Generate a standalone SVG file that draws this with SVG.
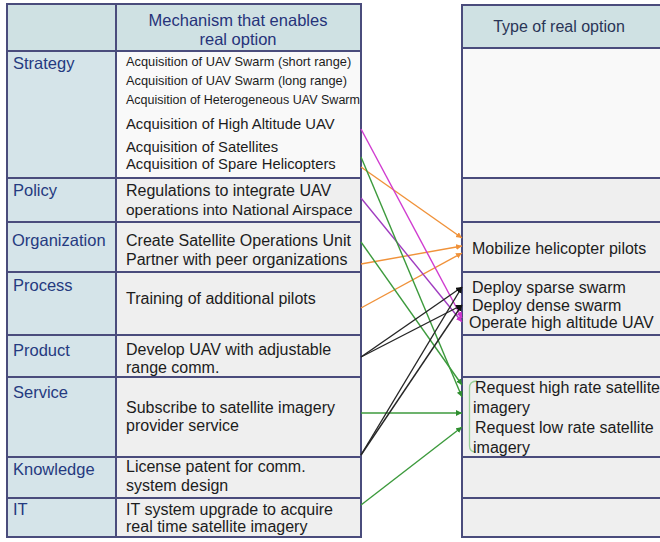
<svg xmlns="http://www.w3.org/2000/svg" width="660" height="542" viewBox="0 0 660 542">
<defs>
<style>
.hd{fill:#cfe1e3;stroke:#4a4c7c;stroke-width:2}
.lb{fill:#d5e4e9;stroke:#4a4c7c;stroke-width:2}
.mc{fill:#efefef;stroke:#4a4c7c;stroke-width:2}
.mw{fill:#f9f9f9;stroke:#4a4c7c;stroke-width:2}
.t{font-family:"Liberation Sans",Arial,sans-serif;font-size:16px;fill:#1c1c1c}
.ts{font-family:"Liberation Sans",Arial,sans-serif;font-size:12.8px;fill:#1c1c1c}
.tm{font-family:"Liberation Sans",Arial,sans-serif;font-size:14.8px;fill:#1c1c1c}
.tl{font-family:"Liberation Sans",Arial,sans-serif;font-size:16.5px;fill:#253a80}
.th{font-family:"Liberation Sans",Arial,sans-serif;font-size:16.5px;fill:#26337a;text-anchor:middle}
.tr{font-family:"Liberation Sans",Arial,sans-serif;font-size:16px;fill:#1c1c1c}
.c{fill:none;stroke-width:1.4}
.or{stroke:#f0923a;marker-end:url(#ao)}
.mg{stroke:#d03cd0;marker-end:url(#am)}
.pu{stroke:#a03cc0;marker-end:url(#am)}
.gr{stroke:#3c9a3c;marker-end:url(#ag)}
.bk{stroke:#262626;marker-end:url(#ab)}
</style>
<marker id="ao" markerUnits="userSpaceOnUse" markerWidth="7" markerHeight="7" refX="6" refY="3" orient="auto"><path d="M0,0 L6,3 L0,6 z" fill="#f0923a"/></marker>
<marker id="am" markerUnits="userSpaceOnUse" markerWidth="7" markerHeight="7" refX="6" refY="3" orient="auto"><path d="M0,0 L6,3 L0,6 z" fill="#cc33cc"/></marker>
<marker id="ag" markerUnits="userSpaceOnUse" markerWidth="7" markerHeight="7" refX="6" refY="3" orient="auto"><path d="M0,0 L6,3 L0,6 z" fill="#2f8f2f"/></marker>
<marker id="ab" markerUnits="userSpaceOnUse" markerWidth="7" markerHeight="7" refX="6" refY="3" orient="auto"><path d="M0,0 L6,3 L0,6 z" fill="#111"/></marker>
</defs>
<rect width="660" height="542" fill="#ffffff"/>

<g id="left-header">
<rect class="hd" x="7" y="4" width="109" height="47"/>
<rect class="hd" x="116" y="4" width="245" height="47"/>
<text class="th" x="238" y="25.5">Mechanism that enables</text>
<text class="th" x="238" y="45">real option</text>
</g>

<g id="row-strategy">
<rect class="lb" x="7" y="51" width="109" height="127"/>
<rect class="mw" x="116" y="51" width="245" height="127"/>
<text class="tl" x="13" y="69">Strategy</text>
<text class="ts" x="126" y="66">Acquisition of UAV Swarm (short range)</text>
<text class="ts" x="126" y="84.5">Acquisition of UAV Swarm (long range)</text>
<text class="ts" x="126" y="104" style="font-size:12.5px">Acquisition of Heterogeneous UAV Swarm</text>
<text class="tm" x="126" y="128.5">Acquisition of High Altitude UAV</text>
<text class="tm" x="126" y="152">Acquisition of Satellites</text>
<text class="tm" x="126" y="169">Acquisition of Spare Helicopters</text>
</g>

<g id="row-policy">
<rect class="lb" x="7" y="178" width="109" height="44"/>
<rect class="mc" x="116" y="178" width="245" height="44"/>
<text class="tl" x="13" y="196">Policy</text>
<text class="t" x="126" y="196">Regulations to integrate UAV</text>
<text class="t" x="126" y="214.5" style="font-size:15.5px">operations into National Airspace</text>
</g>

<g id="row-organization">
<rect class="lb" x="7" y="222" width="109" height="50"/>
<rect class="mc" x="116" y="222" width="245" height="50"/>
<text class="tl" x="12" y="245.5">Organization</text>
<text class="t" x="126" y="245.5">Create Satellite Operations Unit</text>
<text class="t" x="126" y="264.5">Partner with peer organizations</text>
</g>

<g id="row-process">
<rect class="lb" x="7" y="272" width="109" height="63"/>
<rect class="mc" x="116" y="272" width="245" height="63"/>
<text class="tl" x="13" y="291">Process</text>
<text class="t" x="126" y="304">Training of additional pilots</text>
</g>

<g id="row-product">
<rect class="lb" x="7" y="335" width="109" height="42"/>
<rect class="mc" x="116" y="335" width="245" height="42"/>
<text class="tl" x="13" y="355.5">Product</text>
<text class="t" x="126" y="355">Develop UAV with adjustable</text>
<text class="t" x="126" y="373">range comm.</text>
</g>

<g id="row-service">
<rect class="lb" x="7" y="377" width="109" height="80"/>
<rect class="mc" x="116" y="377" width="245" height="80"/>
<text class="tl" x="13" y="398">Service</text>
<text class="t" x="126" y="413">Subscribe to satellite imagery</text>
<text class="t" x="126" y="431">provider service</text>
</g>

<g id="row-knowledge">
<rect class="lb" x="7" y="457" width="109" height="41"/>
<rect class="mc" x="116" y="457" width="245" height="41"/>
<text class="tl" x="13" y="475">Knowledge</text>
<text class="t" x="126" y="472">License patent for comm.</text>
<text class="t" x="126" y="491">system design</text>
</g>

<g id="row-it">
<rect class="lb" x="7" y="498" width="109" height="39"/>
<rect class="mc" x="116" y="498" width="245" height="39"/>
<text class="tl" x="13" y="515">IT</text>
<text class="t" x="126" y="514.5">IT system upgrade to acquire</text>
<text class="t" x="126" y="532">real time satellite imagery</text>
</g>

<g id="right-header">
<rect class="hd" x="462" y="5" width="202" height="43"/>
<text class="th" x="559" y="32" style="font-size:16px;fill:#2a3556">Type of real option</text>
</g>
<g id="opt-strategy"><rect class="mw" x="462" y="48" width="202" height="130"/></g>
<g id="opt-policy"><rect class="mc" x="462" y="178" width="202" height="44"/></g>
<g id="opt-organization">
<rect class="mc" x="462" y="222" width="202" height="50"/>
<text class="tr" x="472" y="253.5">Mobilize helicopter pilots</text>
</g>
<g id="opt-process">
<rect class="mc" x="462" y="272" width="202" height="63"/>
<text class="tr" x="472" y="292.5">Deploy sparse swarm</text>
<text class="tr" x="472" y="310.5">Deploy dense swarm</text>
<text class="tr" x="469" y="327.5">Operate high altitude UAV</text>
</g>
<g id="opt-product"><rect class="mc" x="462" y="335" width="202" height="42"/></g>
<g id="opt-service">
<rect class="mc" x="462" y="377" width="202" height="80"/>
<path d="M477,381 Q469.5,381 469.5,388 L469.5,446 Q469.5,452 476,452" fill="none" stroke="#98d098" stroke-width="1.3"/>
<text class="tr" x="475" y="392.5">Request high rate satellite</text>
<text class="tr" x="473" y="412.5">imagery</text>
<text class="tr" x="475" y="432.5">Request low rate satellite</text>
<text class="tr" x="473" y="452.5">imagery</text>
</g>
<g id="opt-knowledge"><rect class="mc" x="462" y="457" width="202" height="41"/></g>
<g id="opt-it"><rect class="mc" x="462" y="498" width="202" height="39"/></g>

<g id="connectors">
<path class="c or" d="M361,167 L462,238"/>
<path class="c or" d="M361,264 L462,246"/>
<path class="c or" d="M361,308 L462,253"/>
<path class="c mg" d="M361,129 L462,318"/>
<path class="c pu" d="M361,198 L462,322"/>
<path class="c gr" d="M361,157 L462,397"/>
<path class="c gr" d="M361,242 L462,385"/>
<path class="c gr" d="M361,413 L462,413"/>
<path class="c gr" d="M361,505 L462,427"/>
<path class="c bk" d="M361,357 L462,287"/>
<path class="c bk" d="M361,357 L462,305"/>
<path class="c bk" d="M361,455 L462,287"/>
<path class="c bk" d="M361,455 L462,305"/>
</g>
</svg>
